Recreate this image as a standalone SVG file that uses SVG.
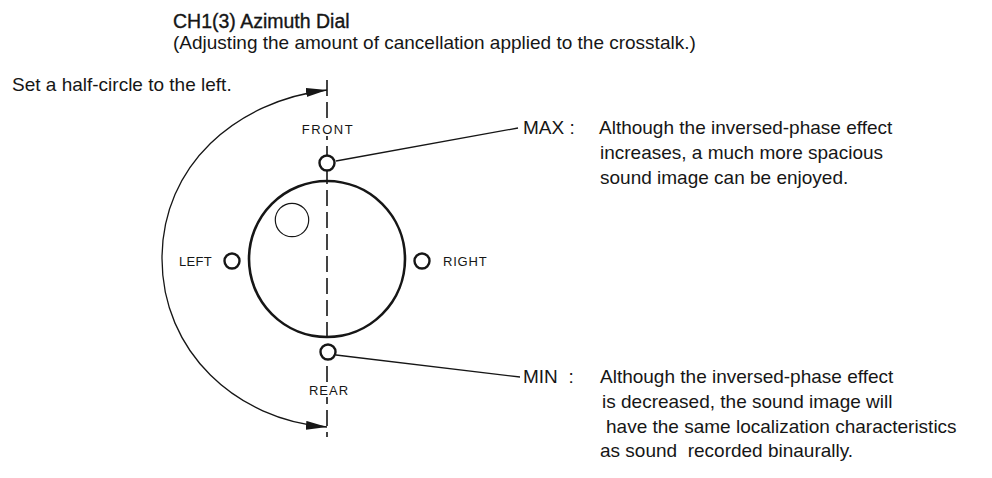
<svg xmlns="http://www.w3.org/2000/svg" width="992" height="478" viewBox="0 0 992 478">
<defs>
<style>
.t{font-family:"Liberation Sans",Arial,Helvetica,sans-serif;font-size:19px;fill:#161616}
.h{font-family:"Liberation Sans",Arial,Helvetica,sans-serif;font-size:19.5px;fill:#161616;stroke:#161616;stroke-width:0.35}
.s{font-family:"Liberation Sans",Arial,Helvetica,sans-serif;font-size:13px;fill:#161616}
.ln{fill:none;stroke:#161616;stroke-width:1.3}
.knob{fill:#fff;stroke:#161616;stroke-width:2.4}
</style>
<marker id="ah" viewBox="0 0 21 9" refX="21" refY="4.5" markerWidth="21" markerHeight="9" markerUnits="userSpaceOnUse" orient="auto-start-reverse">
<path d="M0,0 L21,4.5 L0,9 Z" fill="#161616"/>
</marker>
</defs>
<rect width="992" height="478" fill="#fff"/>
<g id="title">
<text class="h" x="173" y="28">CH1(3) Azimuth Dial</text>
<text class="t" x="173" y="49">(Adjusting the amount of cancellation applied to the crosstalk.)</text>
</g>
<g id="note"><text class="t" x="12" y="91">Set a half-circle to the left.</text></g>
<g id="connectors">
<line x1="327" y1="80" x2="327" y2="437" stroke="#161616" stroke-width="1.6" stroke-dasharray="16,6"/>
<path class="ln" d="M327,90 C236,101 162,165.4 162,258.5 C162,351.6 236,420 327,427" marker-start="url(#ah)" marker-end="url(#ah)"/>
<line class="ln" x1="336" y1="161" x2="518" y2="128"/>
<line class="ln" x1="336" y1="355" x2="520" y2="377"/>
</g>
<g id="dial">
<circle cx="327" cy="259" r="78" fill="none" stroke="#161616" stroke-width="2.6"/>
<circle cx="292" cy="220" r="16.7" fill="none" stroke="#161616" stroke-width="1.2"/>
</g>
<g id="front">
<rect x="300" y="123" width="54" height="13" fill="#fff"/>
<circle class="knob" cx="327" cy="163" r="7.5"/>
<text class="s" x="328" y="134" text-anchor="middle" letter-spacing="1.5">FRONT</text>
</g>
<g id="rear">
<rect x="307" y="385" width="44" height="12" fill="#fff"/>
<circle class="knob" cx="328" cy="352" r="7.5"/>
<text class="s" x="329" y="395" text-anchor="middle" letter-spacing="1">REAR</text>
</g>
<g id="left">
<circle class="knob" cx="232" cy="261" r="7.5"/>
<text class="s" x="179" y="266" letter-spacing="0.3">LEFT</text>
</g>
<g id="right">
<circle class="knob" cx="422" cy="261" r="7.5"/>
<text class="s" x="443" y="266" letter-spacing="0.8">RIGHT</text>
</g>
<g id="max">
<text class="t" x="523" y="134">MAX :</text>
<text class="t" x="599" y="134">Although the inversed-phase effect</text>
<text class="t" x="600" y="159">increases, a much more spacious</text>
<text class="t" x="600" y="184">sound image can be enjoyed.</text>
</g>
<g id="min">
<text class="t" x="523" y="383" xml:space="preserve">MIN  :</text>
<text class="t" x="600" y="383">Although the inversed-phase effect</text>
<text class="t" x="602" y="408">is decreased, the sound image will</text>
<text class="t" x="606" y="433">have the same localization characteristics</text>
<text class="t" x="600" y="457" xml:space="preserve">as sound  recorded binaurally.</text>
</g>
</svg>
